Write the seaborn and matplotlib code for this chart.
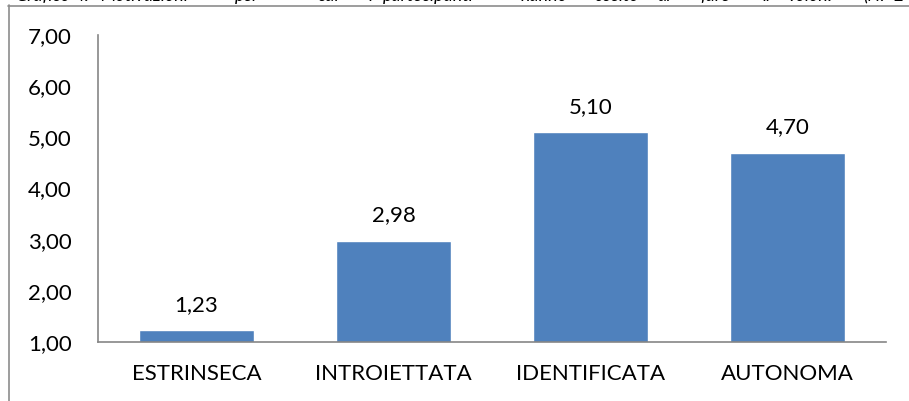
import matplotlib
matplotlib.use("Agg")
import matplotlib.pyplot as plt
from matplotlib.lines import Line2D
import seaborn as sns

# Mean score for each type of motivation
categories = ["ESTRINSECA", "INTROIETTATA", "IDENTIFICATA", "AUTONOMA"]
values = [1.23, 2.98, 5.10, 4.70]
y_ticks = [1, 2, 3, 4, 5, 6, 7]

# Caption words (justified line above the chart frame)
caption_words = ["Grafico", "4:", "Motivazioni", "per", "cui", "i", "partecipanti",
                 "hanno", "scelto", "di", "fare", "il", "volon.", "(N.", "2"]
caption_x = [15, 75, 100, 235, 317, 368, 383, 520, 595, 658, 700, 762, 787, 863, 893]

sns.set_theme(style="white")
plt.rcParams["font.family"] = ["Lato", "DejaVu Sans"]

W, H = 909, 401
FS = 16
fig = plt.figure(figsize=(W / 100, H / 100), dpi=100)
ax = fig.add_axes([98 / W, (H - 342) / H, (886 - 98) / W, (342 - 35) / H])

def it_fmt(v):
    return f"{v:.2f}".replace(".", ",")

sns.barplot(x=categories, y=values, color="#4F81BD", saturation=1,
            width=0.58, ax=ax)

ax.set_ylim(1, 7)
ax.set_yticks(y_ticks)
ax.set_yticklabels([it_fmt(v) for v in y_ticks], fontsize=FS, color="#000000")
ax.set_xlabel("")
ax.set_ylabel("")
ax.tick_params(axis="x", length=0, pad=16, labelsize=FS, labelcolor="#000000")
ax.tick_params(axis="y", length=0, pad=19)

for side in ["top", "right"]:
    ax.spines[side].set_visible(False)
for side in ["left", "bottom"]:
    ax.spines[side].set_color("#868686")
    ax.spines[side].set_linewidth(1.2)

ax.bar_label(ax.containers[0], labels=[it_fmt(v) for v in values],
             padding=11, fontsize=FS, color="#000000")

# Outer frame (left and top edges)
fig.add_artist(Line2D([8.5 / W, 8.5 / W], [0, 1 - 5 / H],
                      transform=fig.transFigure, color="#8c8c8c", lw=1.2))
fig.add_artist(Line2D([8 / W, 1], [1 - 5.5 / H, 1 - 5.5 / H],
                      transform=fig.transFigure, color="#8c8c8c", lw=1.2))

# Caption line, mostly outside the top edge
for word, x in zip(caption_words, caption_x):
    fig.text(x / W, 1 - 1.0 / H, word, fontsize=13, fontstyle="italic",
             ha="left", va="baseline", color="#000000")

fig.savefig("out.png", dpi=100)
